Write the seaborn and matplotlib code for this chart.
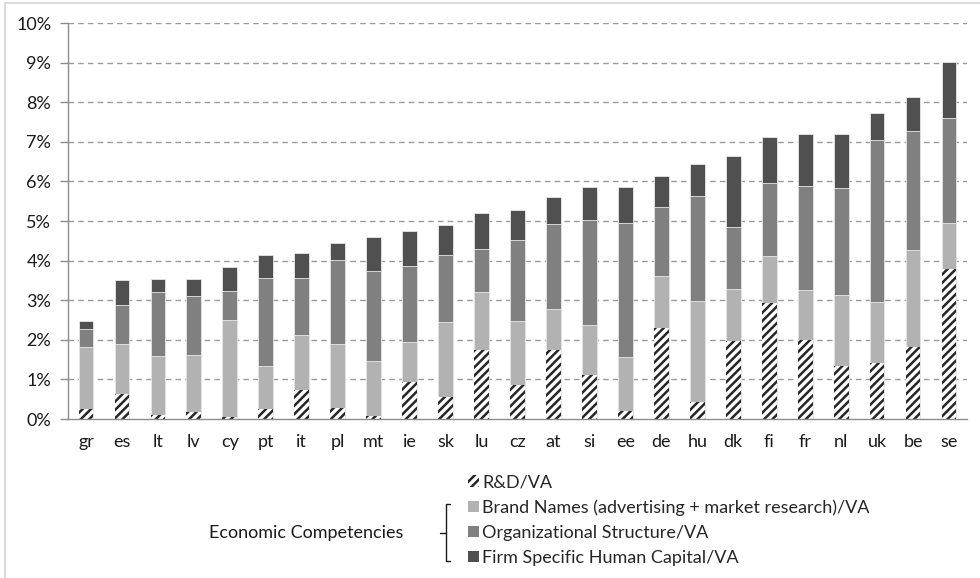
import numpy as np
import pandas as pd
import matplotlib
matplotlib.use("Agg")
import matplotlib.pyplot as plt
from matplotlib.patches import Patch
from matplotlib.lines import Line2D
import seaborn as sns

# values in % of value added
countries = ['gr', 'es', 'lt', 'lv', 'cy', 'pt', 'it', 'pl', 'mt', 'ie', 'sk', 'lu', 'cz',
             'at', 'si', 'ee', 'de', 'hu', 'dk', 'fi', 'fr', 'nl', 'uk', 'be', 'se']
rd = [0.24, 0.64, 0.11, 0.17, 0.04, 0.24, 0.74, 0.27, 0.07, 0.93, 0.55, 1.73, 0.87,
      1.73, 1.10, 0.19, 2.31, 0.42, 1.98, 2.92, 2.00, 1.35, 1.41, 1.81, 3.79]
brand = [1.59, 1.25, 1.47, 1.45, 2.45, 1.11, 1.38, 1.62, 1.39, 1.02, 1.91, 1.48, 1.61,
         1.05, 1.28, 1.38, 1.31, 2.57, 1.31, 1.20, 1.26, 1.77, 1.55, 2.46, 1.17]
org = [0.45, 0.98, 1.63, 1.49, 0.75, 2.20, 1.43, 2.13, 2.27, 1.92, 1.67, 1.09, 2.04,
       2.15, 2.65, 3.38, 1.74, 2.64, 1.56, 1.83, 2.63, 2.72, 4.09, 3.01, 2.64]
firm = [0.20, 0.64, 0.33, 0.43, 0.59, 0.58, 0.64, 0.43, 0.86, 0.89, 0.76, 0.90, 0.77,
        0.67, 0.82, 0.90, 0.77, 0.81, 1.79, 1.16, 1.30, 1.35, 0.68, 0.85, 1.41]

labels = ['R&D/VA', 'Brand Names (advertising + market research)/VA',
          'Organizational Structure/VA', 'Firm Specific Human Capital/VA']

df = pd.DataFrame({'country': countries, 'rd': rd, 'brand': brand, 'org': org, 'firm': firm})
df['cum_brand'] = df['rd'] + df['brand']
df['cum_org'] = df['cum_brand'] + df['org']
df['total'] = df['cum_org'] + df['firm']

sns.set_style("white")
plt.rcParams['font.family'] = ['Lato', 'DejaVu Sans']
plt.rcParams['hatch.linewidth'] = 1.8

c_brand, c_org, c_firm, c_hatch = '#b2b2b2', '#808080', '#505050', '#262626'
W = 0.41
FS = 13

fig = plt.figure(figsize=(9.8, 5.78), dpi=100)
ax = fig.add_axes([68 / 980, 1 - 419 / 578, (967 - 68) / 980, (419 - 23) / 578])

# stacked bars drawn as overlapping cumulative bars
sns.barplot(data=df, x='country', y='total', color=c_firm, saturation=1, width=W,
            edgecolor='#e8e8e8', linewidth=0.6, ax=ax, zorder=3)
sns.barplot(data=df, x='country', y='cum_org', color=c_org, saturation=1, width=W,
            edgecolor='#e8e8e8', linewidth=0.6, ax=ax, zorder=3)
sns.barplot(data=df, x='country', y='cum_brand', color=c_brand, saturation=1, width=W,
            edgecolor='#e8e8e8', linewidth=0.6, ax=ax, zorder=3)
sns.barplot(data=df, x='country', y='rd', color='white', saturation=1, width=W,
            hatch='////', edgecolor=c_hatch, linewidth=0, ax=ax, zorder=3)

ax.set_ylim(0, 10)
ax.set_xlim(-0.5, len(countries) - 0.5)
ax.set_yticks(range(0, 11))
ax.set_yticklabels([f'{v}%' for v in range(0, 11)])
ax.set_xlabel('')
ax.set_ylabel('')

for v in range(1, 11):
    ax.axhline(v, color='#9a9a9a', lw=1, ls=(0, (4, 3)), zorder=1)

for s in ['top', 'right']:
    ax.spines[s].set_visible(False)
for s in ['left', 'bottom']:
    ax.spines[s].set_color('#8c8c8c')
    ax.spines[s].set_linewidth(1)
    ax.spines[s].set_zorder(4)

ax.set_xticks(np.arange(-0.5, len(countries)), minor=True)
ax.tick_params(axis='x', which='major', length=0, pad=11, labelsize=FS, labelcolor='#1a1a1a')
ax.tick_params(axis='x', which='minor', length=5, width=1, color='#8c8c8c', direction='out')
ax.tick_params(axis='y', length=6, width=1, color='#8c8c8c', labelsize=FS,
               labelcolor='#1a1a1a', pad=6, left=True)

# legend
handles = [Patch(facecolor='white', edgecolor=c_hatch, hatch='////', linewidth=0),
           Patch(facecolor=c_brand, linewidth=0),
           Patch(facecolor=c_org, linewidth=0),
           Patch(facecolor=c_firm, linewidth=0)]
fig.legend(handles, labels, loc='center left', bbox_to_anchor=(468 / 980, 1 - 520 / 578),
           frameon=False, fontsize=FS, handlelength=0.6, handleheight=0.6,
           handletextpad=0.2, labelspacing=0.5, borderpad=0, borderaxespad=0)

fig.text(306 / 980, 1 - 533 / 578, 'Economic Competencies', ha='center', va='center',
         fontsize=FS, color='#1a1a1a')

# bracket
def fx(px):
    return px / 980


def fy(py):
    return 1 - py / 578


bx, top, bot, mid = 446, 504, 561, 533
for xs, ys in [([bx + 4, bx, bx, bx + 4], [top, top, bot, bot]), ([bx - 6, bx], [mid, mid])]:
    fig.add_artist(Line2D([fx(x) for x in xs], [fy(y) for y in ys], color='#1a1a1a', lw=1))

# outer frame (left and top edges visible)
fig.add_artist(Line2D([fx(5), fx(5), 1], [0, fy(3), fy(3)], color='#d4d4d4', lw=1.2))

fig.savefig('out.png', dpi=100)
